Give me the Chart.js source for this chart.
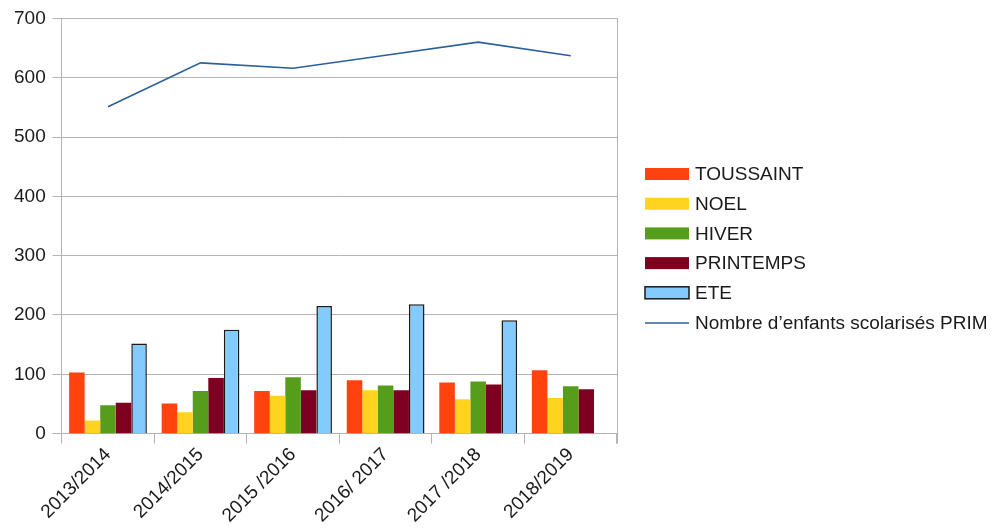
<!DOCTYPE html>
<html>
<head>
<meta charset="utf-8">
<script src="https://cdn.jsdelivr.net/npm/chart.js@4/dist/chart.umd.min.js"></script>
<style>
  html, body { margin: 0; padding: 0; background: #fff; }
  #wrap { width: 1001px; height: 529px; }
</style>
</head>
<body>
<div id="wrap"><canvas id="myChart"></canvas></div>
<script>
(function () {
  const years = ["2013/2014", "2014/2015", "2015 /2016", "2016/ 2017", "2017 /2018", "2018/2019"];
  const toussaint = [103, 51, 72, 90, 86, 107];
  const noel = [22, 36, 64, 73, 58, 60];
  const hiver = [48, 72, 95, 81, 88, 80];
  const printemps = [52, 94, 73, 73, 83, 75];
  const ete = [152, 175, 215, 218, 191, null];
  const enfantsPrim = [551, 625, 616, 638, 660, 637];
  const yTicks = [0, 100, 200, 300, 400, 500, 600, 700];

  const font = "'Liberation Sans', Arial, sans-serif";
  const textColor = "#1a1a1a";
  const gridColor = "#b3b3b3";

  // right border of the plot area + legend drawn on the right side
  const extras = {
    id: "extras",
    afterDraw(chart) {
      const { ctx, chartArea } = chart;
      ctx.save();
      ctx.strokeStyle = gridColor;
      ctx.lineWidth = 1;
      ctx.beginPath();
      ctx.moveTo(Math.round(chartArea.right) + 0.5, chartArea.top);
      ctx.lineTo(Math.round(chartArea.right) + 0.5, chartArea.bottom + 10);
      ctx.stroke();

      const x0 = chartArea.right + 28, boxW = 44, boxH = 12;
      ctx.font = "19px " + font;
      ctx.textBaseline = "middle";
      chart.data.datasets.forEach((ds, i) => {
        const cy = 174 + i * 29.7;
        if (ds.type === "line") {
          ctx.strokeStyle = ds.borderColor;
          ctx.lineWidth = 1.5;
          ctx.beginPath();
          ctx.moveTo(x0, cy + 0.5);
          ctx.lineTo(x0 + boxW, cy + 0.5);
          ctx.stroke();
        } else {
          ctx.fillStyle = ds.backgroundColor;
          ctx.fillRect(x0, cy - boxH / 2, boxW, boxH);
          if (ds.borderWidth) {
            ctx.strokeStyle = ds.borderColor;
            ctx.lineWidth = 1.5;
            ctx.strokeRect(x0, cy - boxH / 2, boxW, boxH);
          }
        }
        ctx.fillStyle = textColor;
        ctx.fillText(ds.label, x0 + boxW + 6, cy + 1);
      });
      ctx.restore();
    }
  };

  const bar = (label, data, color, extra) => Object.assign({
    type: "bar",
    label: label,
    data: data,
    backgroundColor: color,
    borderWidth: 0,
    order: 2,
  }, extra || {});

  new Chart(document.getElementById("myChart"), {
    data: {
      labels: years,
      datasets: [
        bar("TOUSSAINT", toussaint, "#ff420e"),
        bar("NOEL", noel, "#ffd320"),
        bar("HIVER", hiver, "#579d1c"),
        bar("PRINTEMPS", printemps, "#7e0021"),
        bar("ETE", ete, "#83caff", { borderColor: "#1a1a1a", borderWidth: 1.5 }),
        {
          type: "line",
          label: "Nombre d\u2019enfants scolarisés PRIM",
          data: enfantsPrim,
          borderColor: "#2a6099",
          backgroundColor: "#2a6099",
          borderWidth: 1.6,
          pointRadius: 0,
          tension: 0,
          fill: false,
          order: 1,
        },
      ],
    },
    options: {
      responsive: true,
      maintainAspectRatio: false,
      animation: false,
      layout: { padding: { top: 1, right: 384, left: 7, bottom: 2 } },
      datasets: { bar: { categoryPercentage: 0.84, barPercentage: 1 } },
      plugins: {
        tooltip: { enabled: false },
        legend: { display: false },
      },
      scales: {
        x: {
          offset: true,
          grid: { offset: true, drawOnChartArea: false, color: gridColor, tickLength: 10 },
          border: { color: gridColor },
          ticks: { color: textColor, font: { family: font, size: 19 }, maxRotation: 45, minRotation: 45, padding: 0 },
        },
        y: {
          min: 0,
          max: 700,
          afterBuildTicks(axis) { axis.ticks = yTicks.map(v => ({ value: v })); },
          grid: { color: gridColor, tickLength: 9 },
          border: { color: gridColor },
          ticks: { color: textColor, font: { family: font, size: 19 }, padding: 7 },
        },
      },
    },
    plugins: [extras],
  });
})();
</script>
</body>
</html>
